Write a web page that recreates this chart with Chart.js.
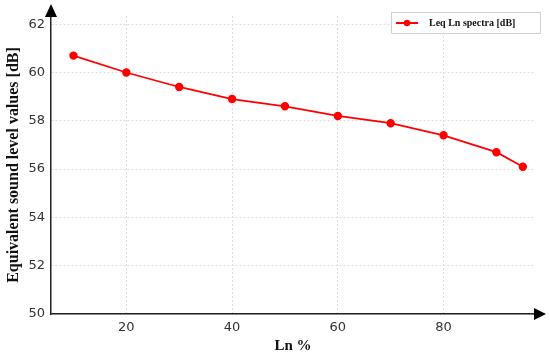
<!DOCTYPE html>
<html>
<head>
<meta charset="utf-8">
<script src="https://cdn.jsdelivr.net/npm/chart.js@4.4.0/dist/chart.umd.min.js"></script>
<style>
  html, body { margin: 0; padding: 0; background: #fff; }
  #wrap { width: 550px; height: 355px; }
</style>
</head>
<body>
<div id="wrap"><canvas id="lnChart"></canvas></div>
<script>
// data
var lnPercent = [10, 20, 30, 40, 50, 60, 70, 80, 90, 95];
var leqValues = [60.7, 60.0, 59.4, 58.9, 58.6, 58.2, 57.9, 57.4, 56.7, 56.1];
var xTicks = [20, 40, 60, 80];
var yTicks = [50, 52, 54, 56, 58, 60, 62];
var seriesLabel = "Leq Ln spectra [dB]";

var points = lnPercent.map(function(x, i) { return { x: x, y: leqValues[i] }; });

// arrows at the ends of both axes
var axisArrows = {
  id: 'axisArrows',
  afterDraw: function(chart) {
    var ctx = chart.ctx, a = chart.chartArea;
    ctx.save();
    ctx.fillStyle = '#000';
    // y arrow
    ctx.beginPath();
    ctx.moveTo(a.left - 6, a.top + 1);
    ctx.lineTo(a.left + 6, a.top + 1);
    ctx.lineTo(a.left, a.top - 12);
    ctx.closePath();
    ctx.fill();
    // x arrow
    ctx.beginPath();
    ctx.moveTo(a.right - 1, a.bottom - 6);
    ctx.lineTo(a.right - 1, a.bottom + 6);
    ctx.lineTo(a.right + 11, a.bottom);
    ctx.closePath();
    ctx.fill();
    ctx.restore();
  }
};

// boxed legend like the original
var boxLegend = {
  id: 'boxLegend',
  afterDraw: function(chart) {
    var ctx = chart.ctx;
    var ds = chart.data.datasets[0];
    var x0 = 391, y0 = 12, w = 149, h = 21;
    ctx.save();
    ctx.fillStyle = 'rgba(255,255,255,0.9)';
    ctx.strokeStyle = '#d0d0d0';
    ctx.lineWidth = 1;
    ctx.beginPath();
    ctx.rect(x0 + 0.5, y0 + 0.5, w, h);
    ctx.fill();
    ctx.stroke();
    var cy = y0 + h / 2 + 0.5;
    ctx.strokeStyle = ds.borderColor;
    ctx.lineWidth = 2;
    ctx.beginPath();
    ctx.moveTo(x0 + 5, cy);
    ctx.lineTo(x0 + 27, cy);
    ctx.stroke();
    ctx.fillStyle = ds.borderColor;
    ctx.beginPath();
    ctx.arc(x0 + 16, cy, 3.2, 0, Math.PI * 2);
    ctx.fill();
    ctx.fillStyle = '#111';
    ctx.font = 'bold 10px "Liberation Serif", "DejaVu Serif", serif';
    ctx.textBaseline = 'middle';
    ctx.fillText(ds.label, x0 + 38, cy);
    ctx.restore();
  }
};

var ctx = document.getElementById('lnChart').getContext('2d');
new Chart(ctx, {
  type: 'line',
  data: {
    datasets: [{
      label: seriesLabel,
      data: points,
      borderColor: '#ff0000',
      backgroundColor: '#ff0000',
      borderWidth: 1.8,
      pointRadius: 3.3,
      pointHoverRadius: 3.3,
      tension: 0
    }]
  },
  options: {
    responsive: true,
    maintainAspectRatio: false,
    animation: false,
    layout: { padding: { left: 0, right: 15, top: 16, bottom: 0 } },
    plugins: {
      legend: { display: false },
      tooltip: { enabled: false }
    },
    scales: {
      x: {
        type: 'linear',
        min: 5.75,
        max: 97.3,
        afterBuildTicks: function(scale) {
          scale.ticks = xTicks.map(function(v) { return { value: v }; });
        },
        afterFit: function(scale) { scale.height = 41; },
        grid: { color: '#dcdcdc', drawTicks: false, lineWidth: 1 },
        border: { display: true, color: '#222', width: 1.5, dash: [2, 2] },
        ticks: { color: '#333', padding: 6, font: { family: '"DejaVu Sans", sans-serif', size: 13 } },
        title: {
          display: true,
          text: 'Ln %',
          color: '#111',
          padding: { top: 1, bottom: 0 },
          font: { family: '"Liberation Serif", "DejaVu Serif", serif', size: 15, weight: 'bold' }
        }
      },
      y: {
        min: 50,
        max: 62.34,
        afterBuildTicks: function(scale) {
          scale.ticks = yTicks.map(function(v) { return { value: v }; });
        },
        afterFit: function(scale) { scale.width = 51; },
        grid: { color: '#dcdcdc', drawTicks: false, lineWidth: 1 },
        border: { display: true, color: '#222', width: 1.5, dash: [2, 2] },
        ticks: { color: '#333', padding: 6, font: { family: '"DejaVu Sans", sans-serif', size: 13 } },
        title: {
          display: true,
          text: 'Equivalent sound level values [dB]',
          color: '#111',
          padding: { top: 4, bottom: 0 },
          font: { family: '"Liberation Serif", "DejaVu Serif", serif', size: 16, weight: 'bold' }
        }
      }
    }
  },
  plugins: [axisArrows, boxLegend]
});
</script>
</body>
</html>
